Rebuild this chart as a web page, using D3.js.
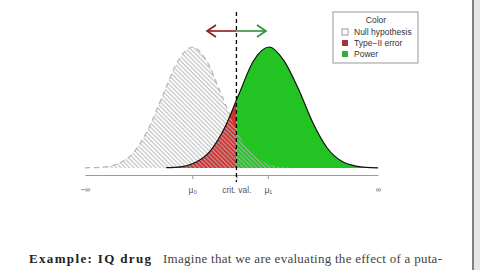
<!DOCTYPE html>
<html lang="en">
    <head>
        <meta charset="utf-8">
        <title>Power plot</title>
        <script type="text/javascript" src="https://cdn.jsdelivr.net/npm/d3@7"></script>
        <style>
            body { margin: 0; background: #fff; }
        </style>
    </head>
    <body>
        <script type="text/javascript">
            // values (x in sd units, y = density)
            var nullX = [-3.7, -3.0, -2.5, -2.0, -1.5, -1.0, -0.5, 0.0, 0.5, 1.0, 1.5, 2.0, 2.5, 3.0, 3.5]
            var nullY = [0.0005, 0.004, 0.017, 0.054, 0.132, 0.244, 0.352, 0.399, 0.352, 0.242, 0.130, 0.054, 0.018, 0.004, 0.001]
            var altX = [-0.9, -0.4, 0.1, 0.6, 1.1, 1.6, 2.1, 2.65, 3.15, 3.65, 4.15, 4.65, 5.15, 5.65, 6.15, 6.4]
            var altY = [0.001, 0.004, 0.018, 0.054, 0.130, 0.242, 0.352, 0.399, 0.355, 0.262, 0.150, 0.066, 0.022, 0.006, 0.001, 0.0005]
            var critVal = 1.52
            var tickValues = [-3.7, 0, 1.52, 2.6, 6.4]
            var tickLabels = ["\u2212\u221e", "\u03bc\u2080", "crit. val.", "\u03bc\u2081", "\u221e"]
            var legendLabels = ["Null hypothesis", "Type\u2212II error", "Power"]
            var legendColors = ["#ffffff", "#a8323c", "#3aa83a"]

            var svg = d3.select("body").append("svg")
                .attr("width", 480)
                .attr("height", 270)

            var x = d3.scaleLinear().domain([-3.7, 6.4]).range([85, 378])
            var y = d3.scaleLinear().domain([0, 0.399]).range([168, 47])

            var nullPts = nullX.map(function (d, i) { return [d, nullY[i]] })
            var altPts = altX.map(function (d, i) { return [d, altY[i]] })

            var defs = svg.append("defs")

            // hatching for the null density
            defs.append("pattern")
                .attr("id", "hatch")
                .attr("patternUnits", "userSpaceOnUse")
                .attr("width", 3.1)
                .attr("height", 10)
                .attr("patternTransform", "rotate(-45)")
                .append("line")
                .attr("x1", 1).attr("y1", 0)
                .attr("x2", 1).attr("y2", 10)
                .attr("stroke", "#b4b4b4")
                .attr("stroke-opacity", 0.8)
                .attr("stroke-width", 1.2)

            // left / right of the critical value
            defs.append("clipPath").attr("id", "leftClip")
                .append("rect")
                .attr("x", 0).attr("y", 0)
                .attr("width", x(critVal)).attr("height", 270)
            defs.append("clipPath").attr("id", "rightClip")
                .append("rect")
                .attr("x", x(critVal)).attr("y", 0)
                .attr("width", 480 - x(critVal)).attr("height", 270)

            var area = d3.area()
                .x(function (d) { return x(d[0]) })
                .y0(y(0))
                .y1(function (d) { return y(d[1]) })
                .curve(d3.curveMonotoneX)

            var line = d3.line()
                .x(function (d) { return x(d[0]) })
                .y(function (d) { return y(d[1]) })
                .curve(d3.curveMonotoneX)

            // dashed outline of the null, hidden under the coloured areas
            svg.append("path")
                .attr("d", line(nullPts))
                .attr("fill", "none")
                .attr("stroke", "#b4b4b4")
                .attr("stroke-width", 1.2)
                .attr("stroke-dasharray", "5,4")

            // type II error and power
            svg.append("path")
                .attr("d", area(altPts))
                .attr("fill", "#d3302e")
                .attr("clip-path", "url(#leftClip)")
            svg.append("path")
                .attr("d", area(altPts))
                .attr("fill", "#22c322")
                .attr("clip-path", "url(#rightClip)")

            // null hypothesis hatching on top
            svg.append("path")
                .attr("d", area(nullPts))
                .attr("fill", "url(#hatch)")

            svg.append("path")
                .attr("d", line(altPts))
                .attr("fill", "none")
                .attr("stroke", "#111")
                .attr("stroke-width", 1.2)

            // axis
            var axis = d3.axisBottom(x)
                .tickValues(tickValues)
                .tickFormat(function (d, i) { return tickLabels[i] })
                .tickSize(4)
                .tickSizeOuter(0)
                .tickPadding(8)

            var gAxis = svg.append("g")
                .attr("transform", "translate(0,175)")
                .call(axis)
            gAxis.select(".domain").attr("stroke", "#9a9a9a")
            gAxis.selectAll(".tick line").attr("stroke", "#9a9a9a")
                .attr("display", function (d, i) { return (i == 0 || i == 4) ? "none" : null })
            gAxis.selectAll(".tick text")
                .attr("fill", "#555")
                .attr("font-family", "Liberation Sans, Arial, sans-serif")
                .attr("font-size", function (d, i) { return (i == 0 || i == 4) ? 7.5 : 8.5 })

            // critical value
            svg.append("line")
                .attr("x1", x(critVal)).attr("x2", x(critVal))
                .attr("y1", 12).attr("y2", 182)
                .attr("stroke", "#000")
                .attr("stroke-width", 1.3)
                .attr("stroke-dasharray", "4,3")

            // arrows
            var ay = 31
            var cx = x(critVal)
            var arrows = [[cx, 207, "#8b1c1c"], [cx, 266, "#2f8f3a"]]
            arrows.forEach(function (a) {
                var dir = a[1] < a[0] ? -1 : 1
                svg.append("line")
                    .attr("x1", a[0]).attr("y1", ay)
                    .attr("x2", a[1]).attr("y2", ay)
                    .attr("stroke", a[2]).attr("stroke-width", 1.6)
                svg.append("path")
                    .attr("d", "M" + (a[1] - dir * 9) + "," + (ay - 6) + "L" + a[1] + "," + ay + "L" + (a[1] - dir * 9) + "," + (ay + 6))
                    .attr("fill", "none")
                    .attr("stroke", a[2]).attr("stroke-width", 1.6)
            })

            // legend
            var leg = svg.append("g").attr("transform", "translate(333,12)")
            leg.append("rect")
                .attr("width", 85).attr("height", 51)
                .attr("fill", "#fff")
                .attr("stroke", "#999")
            leg.append("text")
                .attr("x", 43).attr("y", 11)
                .attr("text-anchor", "middle")
                .attr("font-family", "Liberation Sans, Arial, sans-serif")
                .attr("font-size", 8.5)
                .attr("fill", "#333")
                .text("Color")
            legendLabels.forEach(function (t, i) {
                leg.append("rect")
                    .attr("x", 9).attr("y", 17 + i * 11)
                    .attr("width", 6).attr("height", 6)
                    .attr("fill", legendColors[i])
                    .attr("stroke", i == 0 ? "#999" : "none")
                leg.append("text")
                    .attr("x", 21).attr("y", 23 + i * 11)
                    .attr("font-family", "Liberation Sans, Arial, sans-serif")
                    .attr("font-size", 8.5)
                    .attr("fill", "#333")
                    .text(t)
            })

            // slide frame on the right
            svg.append("rect")
                .attr("x", 474).attr("y", 0)
                .attr("width", 6).attr("height", 270)
                .attr("fill", "#e6e6e6")
            svg.append("line")
                .attr("x1", 473).attr("x2", 473)
                .attr("y1", 0).attr("y2", 270)
                .attr("stroke", "#555").attr("stroke-width", 1.5)

            // slide text below the plot
            svg.append("text")
                .attr("x", 29).attr("y", 263)
                .attr("font-family", "Liberation Serif, serif")
                .attr("font-weight", "bold")
                .attr("font-size", 13)
                .attr("fill", "#222")
                .attr("textLength", 122)
                .text("Example:  IQ drug")
            svg.append("text")
                .attr("x", 163).attr("y", 263)
                .attr("font-family", "Liberation Serif, serif")
                .attr("font-size", 13)
                .attr("fill", "#444")
                .attr("textLength", 279)
                .text("Imagine that we are evaluating the effect of a puta-")
        </script>
    </body>
</html>
